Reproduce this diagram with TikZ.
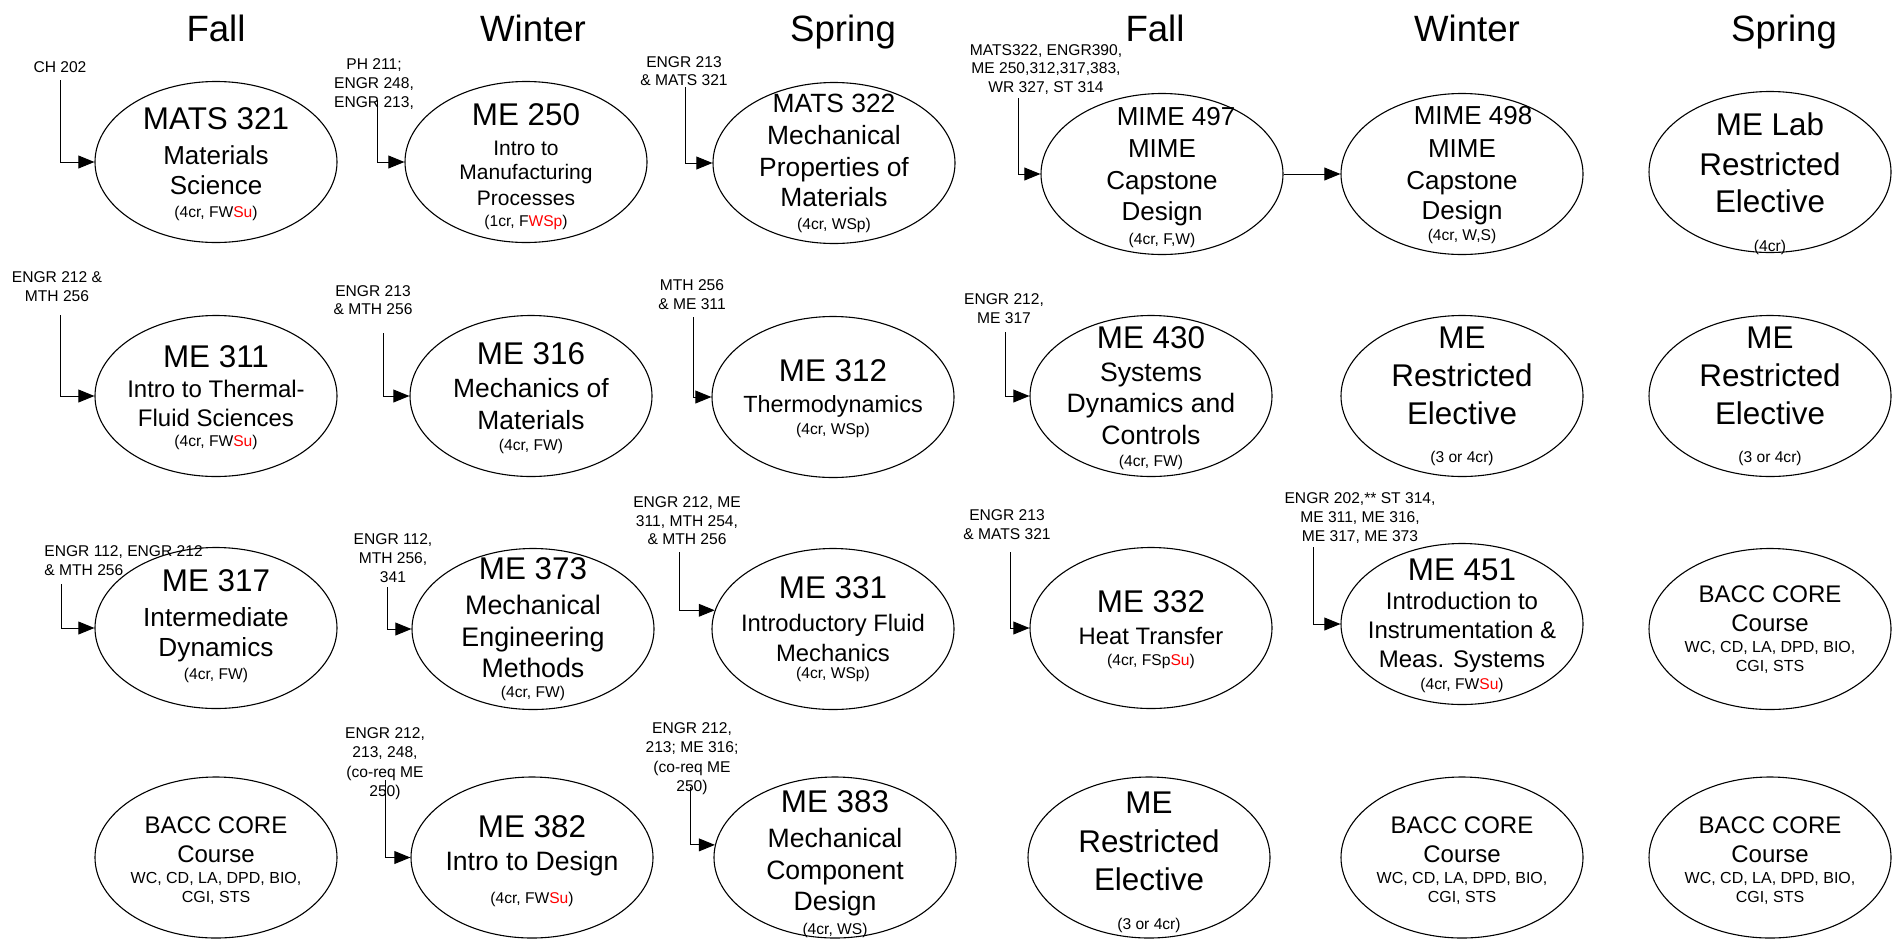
\documentclass[tikz,border=0pt]{standalone}
\usepackage{fontspec}
\setmainfont{Liberation Sans}
\usepackage{xcolor}
\usepackage{tikz}
\usetikzlibrary{shapes.geometric,arrows.meta}

\newcommand{\fsz}[1]{\fontsize{#1}{0}\selectfont}
\newcommand{\su}[1]{\textcolor{red}{#1}}

\tikzset{
  course/.style={draw, ellipse, line width=0.55pt, minimum width=121pt, minimum height=80.5pt, inner sep=0pt},
  txt/.style={anchor=north, align=center, inner sep=0pt, font={\fsz{13}\lineskiplimit=-\maxdimen}},
  prq/.style={anchor=north, align=center, inner sep=0pt, font={\fsz{7.8}\lineskiplimit=-\maxdimen}},
  head/.style={anchor=north, inner sep=0pt, font=\fsz{18.3}},
  feed/.style={line width=0.5pt, -{Triangle[length=8pt,width=6.4pt]}},
}

\begin{document}
\begin{tikzpicture}[x=0.5pt,y=0.5pt,yscale=-1,xscale=1]
\useasboundingbox (0,0) rectangle (1894,938);

% Term headings
\node[head] (fall1) at (216,14.5) {Fall};
\node[head] (winter1) at (533,14.5) {Winter};
\node[head] (spring1) at (843,14.5) {Spring};
\node[head] (fall2) at (1155,14.5) {Fall};
\node[head] (winter2) at (1467,14.5) {Winter};
\node[head] (spring2) at (1784,14.5) {Spring};

%Shape: Ellipse (row 1)
\node[course] (mats321) at (216,162) {};
\node[course] (me250) at (526,162) {};
\node[course] (mats322) at (834,163) {};
\node[course] (mime497) at (1162,174) {};
\node[course] (mime498) at (1462,174) {};
\node[course] (melab) at (1770,172) {};
%Shape: Ellipse (row 2)
\node[course] (me311) at (216,396) {};
\node[course] (me316) at (531,396) {};
\node[course] (me312) at (833,397) {};
\node[course] (me430) at (1151,396) {};
\node[course] (rel2a) at (1462,396) {};
\node[course] (rel2b) at (1770,396) {};
%Shape: Ellipse (row 3)
\node[course] (me317) at (216,628) {};
\node[course] (me373) at (533,629) {};
\node[course] (me331) at (833,629) {};
\node[course] (me332) at (1151,628) {};
\node[course] (me451) at (1462,624) {};
\node[course] (bacc3) at (1770,629) {};
%Shape: Ellipse (row 4)
\node[course] (bacc1) at (216,857.5) {};
\node[course] (me382) at (532,857.5) {};
\node[course] (me383) at (835,857.5) {};
\node[course] (rel4) at (1149,857.5) {};
\node[course] (bacc5) at (1462,857.5) {};
\node[course] (bacc6) at (1770,857.5) {};

% Text Node (row 1)
\node[txt] (mats321-t) at (216,107.5) {\fsz{15.7}MATS 321\\[17.5pt]\fsz{13}Materials\\[15pt]\fsz{13}Science\\[11.5pt]\fsz{7.8}(4cr, FW\su{Su})};
\node[txt] (me250-t) at (526,103) {\fsz{15.7}ME 250\\[15pt]\fsz{10.5}Intro to\\[12pt]\fsz{10.5}Manufacturing\\[13pt]\fsz{10.5}Processes\\[10.5pt]\fsz{7.8}(1cr, F\su{WSp})};
\node[txt] (mats322-t) at (834,94) {\fsz{13.2}MATS 322\\[16pt]\fsz{13.2}Mechanical\\[16pt]\fsz{13.2}Properties of\\[15pt]\fsz{13.2}Materials\\[11.5pt]\fsz{7.8}(4cr, WSp)};
\node[txt] (mime497-t) at (1162,107.4) {\fsz{13}\hspace*{14pt}MIME 497\\[16pt]\fsz{13}MIME\\[16pt]\fsz{13}Capstone\\[15.5pt]\fsz{13}Design\\[12pt]\fsz{7.8}(4cr, F,W)};
\node[txt] (mime498-t) at (1462,106.4) {\fsz{13}\hspace*{11pt}MIME 498\\[16.5pt]\fsz{13}MIME\\[16pt]\fsz{13}Capstone\\[15pt]\fsz{13}Design\\[10.5pt]\fsz{7.8}(4cr, W,S)};
\node[txt] (melab-t) at (1770,112.5) {\fsz{15.7}ME Lab\\[20pt]\fsz{15.7}Restricted\\[18.5pt]\fsz{15.7}Elective\\[19.5pt]\fsz{7.8}(4cr)};

% Text Node (row 2)
\node[txt] (me311-t) at (216,345.5) {\fsz{15.7}ME 311\\[15pt]\fsz{12}Intro to Thermal-\\[14.5pt]\fsz{12}Fluid Sciences\\[10pt]\fsz{7.8}(4cr, FW\su{Su})};
\node[txt] (me316-t) at (531,342.5) {\fsz{15.7}ME 316\\[16.5pt]\fsz{13.2}Mechanics of\\[16pt]\fsz{13.2}Materials\\[10.5pt]\fsz{7.8}(4cr, FW)};
\node[txt] (me312-t) at (833,359.5) {\fsz{15.7}ME 312\\[15.5pt]\fsz{11.7}Thermodynamics\\[11pt]\fsz{7.8}(4cr, WSp)};
\node[txt] (me430-t) at (1151,326.5) {\fsz{15.7}ME 430\\[16.5pt]\fsz{13.3}Systems\\[15.5pt]\fsz{13.3}Dynamics and\\[16pt]\fsz{13.3}Controls\\[11pt]\fsz{7.8}(4cr, FW)};
\node[txt] (rel2a-t) at (1462,326.5) {\fsz{15.7}ME\\[19pt]\fsz{15.7}Restricted\\[19pt]\fsz{15.7}Elective\\[19pt]\fsz{7.8}(3 or 4cr)};
\node[txt] (rel2b-t) at (1770,326.5) {\fsz{15.7}ME\\[19pt]\fsz{15.7}Restricted\\[19pt]\fsz{15.7}Elective\\[19pt]\fsz{7.8}(3 or 4cr)};

% Text Node (row 3)
\node[txt] (me317-t) at (216,569.5) {\fsz{15.7}ME 317\\[17.5pt]\fsz{13.1}Intermediate\\[15pt]\fsz{13.1}Dynamics\\[11.5pt]\fsz{7.8}(4cr, FW)};
\node[txt] (me373-t) at (533,557.5) {\fsz{15.7}ME 373\\[17.5pt]\fsz{13.4}Mechanical\\[16pt]\fsz{13.4}Engineering\\[15.5pt]\fsz{13.4}Methods\\[10pt]\fsz{7.8}(4cr, FW)};
\node[txt] (me331-t) at (833,576.5) {\fsz{15.7}ME 331\\[16.5pt]\fsz{11.9}Introductory Fluid\\[15pt]\fsz{11.9}Mechanics\\[8.5pt]\fsz{7.8}(4cr, WSp)};
\node[txt] (me332-t) at (1151,590.5) {\fsz{15.7}ME 332\\[16pt]\fsz{11.9}Heat Transfer\\[10.5pt]\fsz{7.8}(4cr, FSp\su{Su})};
\node[txt] (me451-t) at (1462,558) {\fsz{15.7}ME 451\\[14.5pt]\fsz{12}Introduction to\\[14.5pt]\fsz{12}Instrumentation \&\\[14.5pt]\fsz{12}Meas. Systems\\[11pt]\fsz{7.8}(4cr, FW\su{Su})};
\node[txt] (bacc3-t) at (1770,585) {\fsz{12}BACC CORE\\[14.5pt]\fsz{12}Course\\[10.5pt]\fsz{8}WC, CD, LA, DPD, BIO,\\[9.5pt]\fsz{8}CGI, STS};

% Text Node (row 4)
\node[txt] (bacc1-t) at (216,816) {\fsz{12}BACC CORE\\[14.5pt]\fsz{12}Course\\[10.5pt]\fsz{8}WC, CD, LA, DPD, BIO,\\[9.5pt]\fsz{8}CGI, STS};
\node[txt] (me382-t) at (532,815.5) {\fsz{15.7}ME 382\\[16.5pt]\fsz{13.3}Intro to Design\\[16.5pt]\fsz{7.8}(4cr, FW\su{Su})};
\node[txt] (me383-t) at (835,790.5) {\fsz{15.7}ME 383\\[17.5pt]\fsz{13.3}Mechanical\\[16pt]\fsz{13.3}Component\\[15.5pt]\fsz{13.3}Design\\[12pt]\fsz{7.8}(4cr, WS)};
\node[txt] (rel4-t) at (1149,791) {\fsz{15.7}ME\\[19.5pt]\fsz{15.7}Restricted\\[19pt]\fsz{15.7}Elective\\[19.5pt]\fsz{7.8}(3 or 4cr)};
\node[txt] (bacc5-t) at (1462,816) {\fsz{12}BACC CORE\\[14.5pt]\fsz{12}Course\\[10.5pt]\fsz{8}WC, CD, LA, DPD, BIO,\\[9.5pt]\fsz{8}CGI, STS};
\node[txt] (bacc6-t) at (1770,816) {\fsz{12}BACC CORE\\[14.5pt]\fsz{12}Course\\[10.5pt]\fsz{8}WC, CD, LA, DPD, BIO,\\[9.5pt]\fsz{8}CGI, STS};

% Text Node (prerequisites)
\node[prq] (mats321-p) at (60,60.8) {CH 202};
\node[prq] (me250-p) at (374,57.8) {PH 211;\\[9.5pt]ENGR 248,\\[9.5pt]ENGR 213,};
\node[prq] (mats322-p) at (684,55.8) {ENGR 213\\[9.2pt]\& MATS 321};
\node[prq] (mime497-p) at (1046,43.8) {MATS322, ENGR390,\\[9.3pt]ME 250,312,317,383,\\[9.3pt]WR 327, ST 314};
\node[prq] (me311-p) at (57,270.8) {ENGR 212 \&\\[9.5pt]MTH 256};
\node[prq] (me316-p) at (373,284.8) {ENGR 213\\[9.2pt]\& MTH 256};
\node[prq] (me312-p) at (692,278.8) {MTH 256\\[9.5pt]\& ME 311};
\node[prq] (me430-p) at (1004,292.8) {ENGR 212,\\[9.5pt]ME 317};
\node[prq, anchor=north west, align=left] (me317-p) at (44,544.8) {ENGR 112, ENGR 212\\[9.5pt]\& MTH 256};
\node[prq] (me373-p) at (393,532.8) {ENGR 112,\\[9.5pt]MTH 256,\\[9.5pt]341};
\node[prq] (me331-p) at (687,495.8) {ENGR 212, ME\\[9.5pt]311, MTH 254,\\[9.2pt]\& MTH 256};
\node[prq] (me332-p) at (1007,508.8) {ENGR 213\\[9.5pt]\& MATS 321};
\node[prq] (me451-p) at (1360,491.8) {ENGR 202,** ST 314,\\[9.5pt]ME 311, ME 316,\\[9.5pt]ME 317, ME 373};
\node[prq] (me382-p) at (385,726.8) {ENGR 212,\\[9.8pt]213, 248,\\[9.8pt](co-req ME\\[9.8pt]250)};
\node[prq] (me383-p) at (692,721.8) {ENGR 212,\\[9.8pt]213; ME 316;\\[9.8pt](co-req ME\\[9.8pt]250)};

% Free ends of the prerequisite lines
\coordinate (mats321-in) at (60,80);
\coordinate (me250-in) at (377,100);
\coordinate (mats322-in) at (685,87);
\coordinate (mime497-in) at (1018,98);
\coordinate (me311-in) at (60,315);
\coordinate (me316-in) at (383,333);
\coordinate (me312-in) at (693,317);
\coordinate (me430-in) at (1005,332);
\coordinate (me317-in) at (61,584);
\coordinate (me373-in) at (387,587);
\coordinate (me331-in) at (679,552);
\coordinate (me332-in) at (1010,552);
\coordinate (me451-in) at (1313,547);
\coordinate (me382-in) at (385,780);
\coordinate (me383-in) at (690,787);

%Straight Lines
\draw[feed] (mats321-in) |- (mats321.west);
\draw[feed] (me250-in) |- (me250.west);
\draw[feed] (mats322-in) |- (mats322.west);
\draw[feed] (mime497-in) |- (mime497.west);
\draw[feed] (mime497.east) -- (mime498.west);
\draw[feed] (me311-in) |- (me311.west);
\draw[feed] (me316-in) |- (me316.west);
\draw[feed] (me312-in) |- (me312.west);
\draw[feed] (me430-in) |- (me430.west);
\draw[feed] (me317-in) |- (me317.west);
\draw[feed] (me373-in) |- (me373.west);
\draw[feed] (me331-in) |- (me331.171);
\draw[feed] (me332-in) |- (me332.west);
\draw[feed] (me451-in) |- (me451.west);
\draw[feed] (me382-in) |- (me382.west);
\draw[feed] (me383-in) |- (me383.174);
\end{tikzpicture}
\end{document}
